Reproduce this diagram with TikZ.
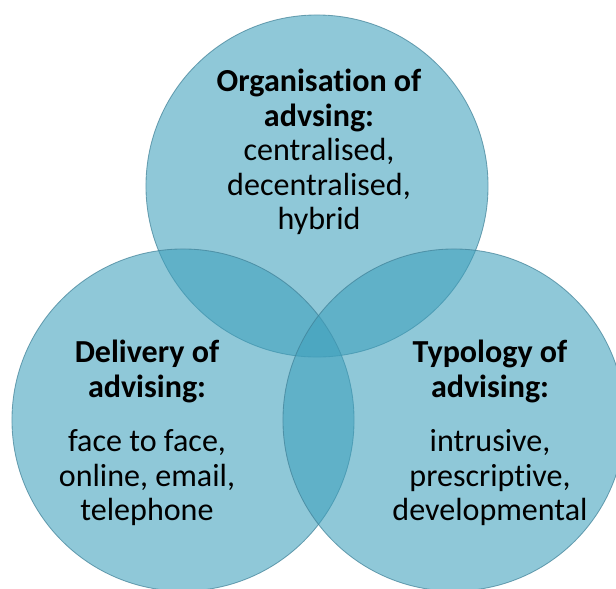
\documentclass[tikz,border=0pt]{standalone}
\usepackage{fontspec}
\setmainfont{Carlito}[Ligatures=NoCommon]
\usepackage{tikz}
\usetikzlibrary{
    positioning,
    calc
    }

\definecolor{bubblebase}{RGB}{62,160,188}
\definecolor{bubbleline}{RGB}{62,128,150}

\begin{document}
\begin{tikzpicture}[x=0.025cm, y=-0.025cm]
\tikzset{bubble/.style =
        {
            shape=circle,
            fill=bubblebase,
            fill opacity=0.58,
            draw=bubbleline,
            draw opacity=0.7,
            line width=0.6pt,
            minimum size=8.55cm,
            inner sep=0cm
        }
}

\tikzset{blurb/.style =
        {
            align=center,
            text=black,
            inner sep=0cm,
            font=\fontsize{22.8pt}{24.5pt}\selectfont
        }
}

\useasboundingbox (0,0) rectangle (616,588);

\foreach \name / \x / \y in
    {org/317/186,
        deliv/183/420,
        typ/454/420}
\node[bubble] (\name) at (\x,\y) {};

\node[blurb] (orgtext) at ([shift={(2,-34)}]org.center)
    {\textbf{Organisation of}\\ \textbf{advsing:}\\ centralised,\\ decentralised,\\ hybrid};

\node[blurb] (delivtext) at ([shift={(-36,13)}]deliv.center)
    {\textbf{Delivery of}\\ \textbf{advising:}\\[0.5cm] face to face,\\ online, email,\\ telephone};

\node[blurb] (typtext) at ([shift={(36,13)}]typ.center)
    {\textbf{Typology of}\\ \textbf{advising:}\\[0.5cm] intrusive,\\ prescriptive,\\ developmental};

\end{tikzpicture}
\end{document}
